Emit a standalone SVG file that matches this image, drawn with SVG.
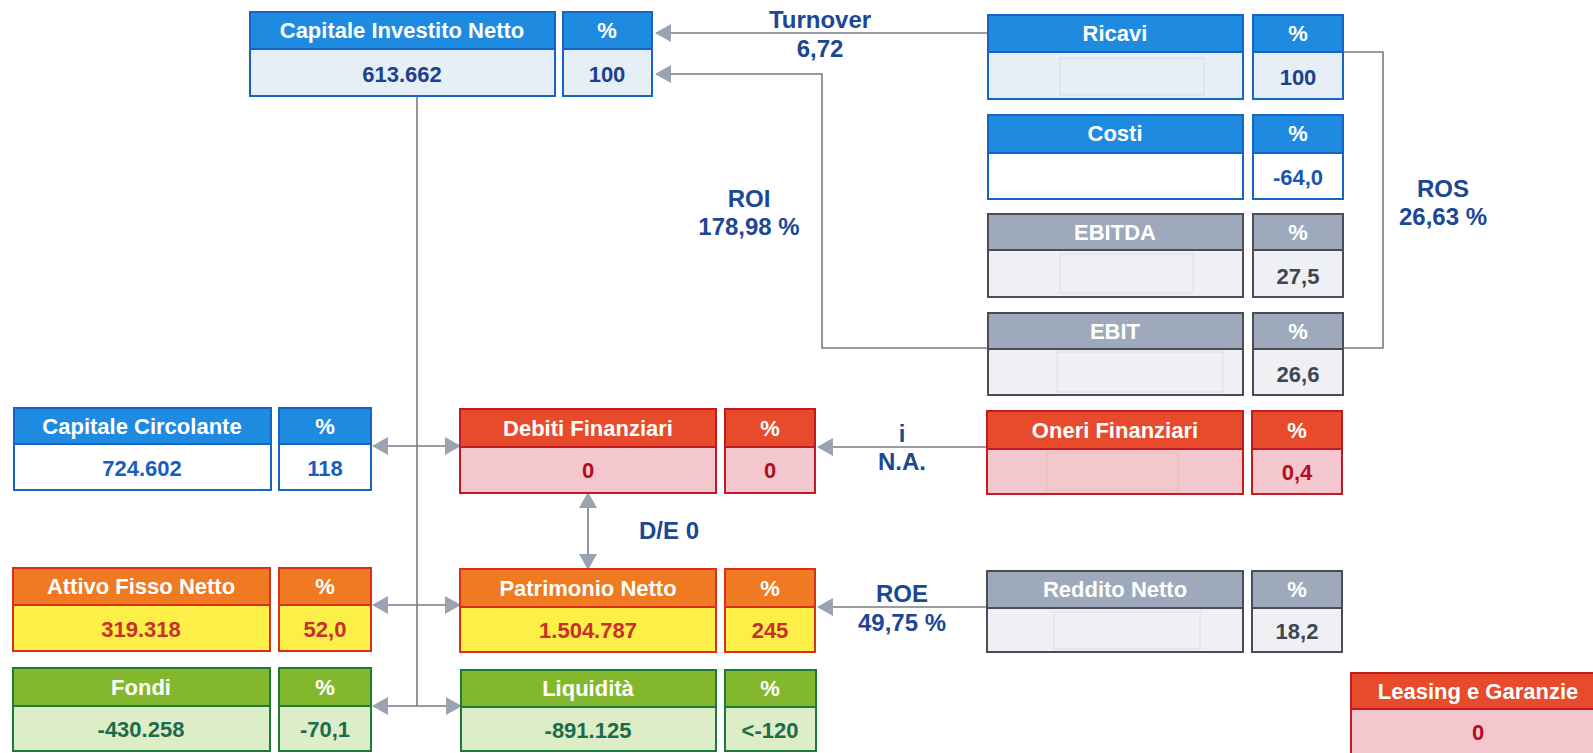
<svg xmlns="http://www.w3.org/2000/svg" width="1593" height="753" viewBox="0 0 1593 753">
<defs>
<style>
text{font-family:"Liberation Sans",Arial,sans-serif;font-weight:bold;text-anchor:middle}
.ht{fill:#ffffff;font-size:22px}
.vt{font-size:22px}
.lbl{fill:#1c4794;font-size:24px}
.box{fill:none;stroke-width:2}
.bh{fill:#1f8be0}.bb{stroke:#1565c8}.bv{fill:#e6eef6}.bw{fill:#ffffff}.btx{fill:#1d3f8c}
.gh{fill:#9eaabb}.gb{stroke:#4a4d57}.gv{fill:#eef0f3}.gtx{fill:#3f4650}
.rh{fill:#e84b2b}.rb{stroke:#c21a22}.rv{fill:#f4c6cd}.rtx{fill:#b0101e}
.oh{fill:#ef7a22}.ob{stroke:#d8301a}.ov{fill:#fbef48}.otx{fill:#c8302a}
.vh{fill:#84b82c}.vb{stroke:#1d7a3e}.vv{fill:#dcedc8}.vtx{fill:#1e6b4a}
.mask{fill:none;stroke-width:1;opacity:0.35}
.conn{fill:none;stroke:#767b85;stroke-width:1.6}
</style>
<marker id="ah" markerUnits="userSpaceOnUse" markerWidth="16" markerHeight="18" viewBox="0 0 16 18" refX="15" refY="9" orient="auto-start-reverse">
<path d="M0,0 L16,9 L0,18 z" fill="#9aa3b2"/>
</marker>
</defs>
<rect width="1593" height="753" fill="#ffffff"/>

<g id="connectors">
<path class="conn" d="M988,33 H656" marker-end="url(#ah)"/>
<path class="conn" d="M988,348 H822 V74 H656" marker-end="url(#ah)"/>
<path class="conn" d="M1343,52 H1383 V348 H1343"/>
<path class="conn" d="M417,96 V706"/>
<path class="conn" d="M373,446 H460" marker-start="url(#ah)" marker-end="url(#ah)"/>
<path class="conn" d="M373,605 H460" marker-start="url(#ah)" marker-end="url(#ah)"/>
<path class="conn" d="M373,706 H461" marker-start="url(#ah)" marker-end="url(#ah)"/>
<path class="conn" d="M987,447 H818" marker-end="url(#ah)"/>
<path class="conn" d="M987,607 H818" marker-end="url(#ah)"/>
<path class="conn" d="M588,493 V569" marker-start="url(#ah)" marker-end="url(#ah)"/>
<text class="lbl" x="820" y="28">Turnover</text>
<text class="lbl" x="820" y="57">6,72</text>
<text class="lbl" x="749" y="207">ROI</text>
<text class="lbl" x="749" y="235">178,98 %</text>
<text class="lbl" x="1443" y="197">ROS</text>
<text class="lbl" x="1443" y="225">26,63 %</text>
<text class="lbl" x="902" y="442">i</text>
<text class="lbl" x="902" y="470">N.A.</text>
<text class="lbl" x="669" y="539">D/E 0</text>
<text class="lbl" x="902" y="602">ROE</text>
<text class="lbl" x="902" y="631">49,75 %</text>
</g>

<g id="capitale-investito-netto">
<rect class="bh" x="250" y="12" width="305" height="37"/><rect class="bv" x="250" y="49" width="305" height="47"/>
<rect class="box bb" x="250" y="12" width="305" height="84"/><line class="box bb" x1="250" y1="49" x2="555" y2="49"/>
<text class="ht" x="402" y="38">Capitale Investito Netto</text><text class="vt btx" x="402" y="82">613.662</text>
<rect class="bh" x="563" y="12" width="89" height="37"/><rect class="bv" x="563" y="49" width="89" height="47"/>
<rect class="box bb" x="563" y="12" width="89" height="84"/><line class="box bb" x1="563" y1="49" x2="652" y2="49"/>
<text class="ht" x="607" y="38">%</text><text class="vt btx" x="607" y="82">100</text>
</g>

<g id="ricavi">
<rect class="bh" x="988" y="15" width="255" height="37"/><rect class="bv" x="988" y="52" width="255" height="47"/>
<rect class="mask" x="1060" y="58" width="144" height="37" stroke="#8ec4ec"/>
<rect class="box bb" x="988" y="15" width="255" height="84"/><line class="box bb" x1="988" y1="52" x2="1243" y2="52"/>
<text class="ht" x="1115" y="41">Ricavi</text>
<rect class="bh" x="1253" y="15" width="90" height="37"/><rect class="bv" x="1253" y="52" width="90" height="47"/>
<rect class="box bb" x="1253" y="15" width="90" height="84"/><line class="box bb" x1="1253" y1="52" x2="1343" y2="52"/>
<text class="ht" x="1298" y="41">%</text><text class="vt btx" x="1298" y="85">100</text>
</g>

<g id="costi">
<rect class="bh" x="988" y="115" width="255" height="38"/><rect class="bw" x="988" y="153" width="255" height="46"/>
<rect class="box bb" x="988" y="115" width="255" height="84"/><line class="box bb" x1="988" y1="153" x2="1243" y2="153"/>
<text class="ht" x="1115" y="141">Costi</text>
<rect class="bh" x="1253" y="115" width="90" height="38"/><rect class="bw" x="1253" y="153" width="90" height="46"/>
<rect class="box bb" x="1253" y="115" width="90" height="84"/><line class="box bb" x1="1253" y1="153" x2="1343" y2="153"/>
<text class="ht" x="1298" y="141">%</text><text class="vt" fill="#1a56b0" x="1298" y="185">-64,0</text>
</g>

<g id="ebitda">
<rect class="gh" x="988" y="214" width="255" height="36"/><rect class="gv" x="988" y="250" width="255" height="47"/>
<rect class="mask" x="1060" y="254" width="133" height="39" stroke="#b8bec8"/>
<rect class="box gb" x="988" y="214" width="255" height="83"/><line class="box gb" x1="988" y1="250" x2="1243" y2="250"/>
<text class="ht" x="1115" y="240">EBITDA</text>
<rect class="gh" x="1253" y="214" width="90" height="36"/><rect class="gv" x="1253" y="250" width="90" height="47"/>
<rect class="box gb" x="1253" y="214" width="90" height="83"/><line class="box gb" x1="1253" y1="250" x2="1343" y2="250"/>
<text class="ht" x="1298" y="240">%</text><text class="vt gtx" x="1298" y="284">27,5</text>
</g>

<g id="ebit">
<rect class="gh" x="988" y="313" width="255" height="36"/><rect class="gv" x="988" y="349" width="255" height="46"/>
<rect class="mask" x="1057" y="352" width="166" height="40" stroke="#b8bec8"/>
<rect class="box gb" x="988" y="313" width="255" height="82"/><line class="box gb" x1="988" y1="349" x2="1243" y2="349"/>
<text class="ht" x="1115" y="339">EBIT</text>
<rect class="gh" x="1253" y="313" width="90" height="36"/><rect class="gv" x="1253" y="349" width="90" height="46"/>
<rect class="box gb" x="1253" y="313" width="90" height="82"/><line class="box gb" x1="1253" y1="349" x2="1343" y2="349"/>
<text class="ht" x="1298" y="339">%</text><text class="vt gtx" x="1298" y="382">26,6</text>
</g>

<g id="capitale-circolante">
<rect class="bh" x="14" y="408" width="257" height="36"/><rect class="bw" x="14" y="444" width="257" height="46"/>
<rect class="box bb" x="14" y="408" width="257" height="82"/><line class="box bb" x1="14" y1="444" x2="271" y2="444"/>
<text class="ht" x="142" y="434">Capitale Circolante</text><text class="vt" fill="#1a5bc0" x="142" y="476">724.602</text>
<rect class="bh" x="279" y="408" width="92" height="36"/><rect class="bw" x="279" y="444" width="92" height="46"/>
<rect class="box bb" x="279" y="408" width="92" height="82"/><line class="box bb" x1="279" y1="444" x2="371" y2="444"/>
<text class="ht" x="325" y="434">%</text><text class="vt" fill="#1a5bc0" x="325" y="476">118</text>
</g>

<g id="debiti-finanziari">
<rect class="rh" x="460" y="409" width="256" height="38"/><rect class="rv" x="460" y="447" width="256" height="46"/>
<rect class="box rb" x="460" y="409" width="256" height="84"/><line class="box rb" x1="460" y1="447" x2="716" y2="447"/>
<text class="ht" x="588" y="436">Debiti Finanziari</text><text class="vt rtx" x="588" y="478">0</text>
<rect class="rh" x="725" y="409" width="90" height="38"/><rect class="rv" x="725" y="447" width="90" height="46"/>
<rect class="box rb" x="725" y="409" width="90" height="84"/><line class="box rb" x1="725" y1="447" x2="815" y2="447"/>
<text class="ht" x="770" y="436">%</text><text class="vt rtx" x="770" y="478">0</text>
</g>

<g id="oneri-finanziari">
<rect class="rh" x="987" y="411" width="256" height="38"/><rect class="rv" x="987" y="449" width="256" height="45"/>
<rect class="mask" x="1047" y="453" width="131" height="37" stroke="#d8a0aa"/>
<rect class="box rb" x="987" y="411" width="256" height="83"/><line class="box rb" x1="987" y1="449" x2="1243" y2="449"/>
<text class="ht" x="1115" y="438">Oneri Finanziari</text>
<rect class="rh" x="1252" y="411" width="90" height="38"/><rect class="rv" x="1252" y="449" width="90" height="45"/>
<rect class="box rb" x="1252" y="411" width="90" height="83"/><line class="box rb" x1="1252" y1="449" x2="1342" y2="449"/>
<text class="ht" x="1297" y="438">%</text><text class="vt rtx" x="1297" y="480">0,4</text>
</g>

<g id="attivo-fisso-netto">
<rect class="oh" x="13" y="568" width="257" height="37"/><rect class="ov" x="13" y="605" width="257" height="46"/>
<rect class="box ob" x="13" y="568" width="257" height="83"/><line class="box ob" x1="13" y1="605" x2="270" y2="605"/>
<text class="ht" x="141" y="594">Attivo Fisso Netto</text><text class="vt otx" x="141" y="637">319.318</text>
<rect class="oh" x="279" y="568" width="92" height="37"/><rect class="ov" x="279" y="605" width="92" height="46"/>
<rect class="box ob" x="279" y="568" width="92" height="83"/><line class="box ob" x1="279" y1="605" x2="371" y2="605"/>
<text class="ht" x="325" y="594">%</text><text class="vt otx" x="325" y="637">52,0</text>
</g>

<g id="patrimonio-netto">
<rect class="oh" x="460" y="569" width="256" height="38"/><rect class="ov" x="460" y="607" width="256" height="45"/>
<rect class="box ob" x="460" y="569" width="256" height="83"/><line class="box ob" x1="460" y1="607" x2="716" y2="607"/>
<text class="ht" x="588" y="596">Patrimonio Netto</text><text class="vt otx" x="588" y="638">1.504.787</text>
<rect class="oh" x="725" y="569" width="90" height="38"/><rect class="ov" x="725" y="607" width="90" height="45"/>
<rect class="box ob" x="725" y="569" width="90" height="83"/><line class="box ob" x1="725" y1="607" x2="815" y2="607"/>
<text class="ht" x="770" y="596">%</text><text class="vt otx" x="770" y="638">245</text>
</g>

<g id="reddito-netto">
<rect class="gh" x="987" y="571" width="256" height="37"/><rect class="gv" x="987" y="608" width="256" height="44"/>
<rect class="mask" x="1054" y="612" width="146" height="37" stroke="#b8bec8"/>
<rect class="box gb" x="987" y="571" width="256" height="81"/><line class="box gb" x1="987" y1="608" x2="1243" y2="608"/>
<text class="ht" x="1115" y="597">Reddito Netto</text>
<rect class="gh" x="1252" y="571" width="90" height="37"/><rect class="gv" x="1252" y="608" width="90" height="44"/>
<rect class="box gb" x="1252" y="571" width="90" height="81"/><line class="box gb" x1="1252" y1="608" x2="1342" y2="608"/>
<text class="ht" x="1297" y="597">%</text><text class="vt gtx" x="1297" y="639">18,2</text>
</g>

<g id="fondi">
<rect class="vh" x="13" y="668" width="257" height="38"/><rect class="vv" x="13" y="706" width="257" height="45"/>
<rect class="box vb" x="13" y="668" width="257" height="83"/><line class="box vb" x1="13" y1="706" x2="270" y2="706"/>
<text class="ht" x="141" y="695">Fondi</text><text class="vt vtx" x="141" y="737">-430.258</text>
<rect class="vh" x="279" y="668" width="92" height="38"/><rect class="vv" x="279" y="706" width="92" height="45"/>
<rect class="box vb" x="279" y="668" width="92" height="83"/><line class="box vb" x1="279" y1="706" x2="371" y2="706"/>
<text class="ht" x="325" y="695">%</text><text class="vt vtx" x="325" y="737">-70,1</text>
</g>

<g id="liquidita">
<rect class="vh" x="461" y="670" width="255" height="37"/><rect class="vv" x="461" y="707" width="255" height="44"/>
<rect class="box vb" x="461" y="670" width="255" height="81"/><line class="box vb" x1="461" y1="707" x2="716" y2="707"/>
<text class="ht" x="588" y="696">Liquidità</text><text class="vt vtx" x="588" y="738">-891.125</text>
<rect class="vh" x="725" y="670" width="91" height="37"/><rect class="vv" x="725" y="707" width="91" height="44"/>
<rect class="box vb" x="725" y="670" width="91" height="81"/><line class="box vb" x1="725" y1="707" x2="816" y2="707"/>
<text class="ht" x="770" y="696">%</text><text class="vt vtx" x="770" y="738">&lt;-120</text>
</g>

<g id="leasing-e-garanzie">
<rect class="rh" x="1351" y="673" width="255" height="36"/><rect class="rv" x="1351" y="709" width="255" height="48"/>
<rect class="box rb" x="1351" y="673" width="255" height="84"/><line class="box rb" x1="1351" y1="709" x2="1606" y2="709"/>
<text class="ht" x="1478" y="699">Leasing e Garanzie</text><text class="vt rtx" x="1478" y="740">0</text>
</g>
</svg>
